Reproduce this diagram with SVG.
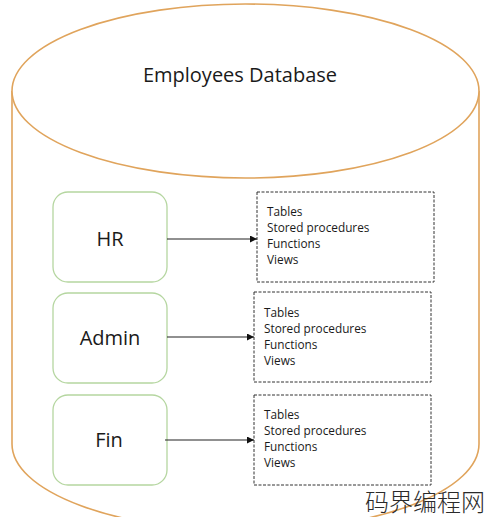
<svg xmlns="http://www.w3.org/2000/svg" width="490" height="517" viewBox="0 0 490 517">
<style>
.db{fill:#ffffff;stroke:#e0a45c;stroke-width:1.6}
.node{fill:#ffffff;stroke:#b5d6a0;stroke-width:1.3}
.box{fill:#ffffff;stroke:#333333;stroke-width:1;stroke-dasharray:3 1.5}
.lbl{font-family:"Open Sans","Noto Sans","Liberation Sans",sans-serif;font-size:20px;fill:#1a1a1a;text-anchor:middle}
.item{font-family:"Open Sans","Noto Sans","Liberation Sans",sans-serif;font-size:11.8px;fill:#1a1a1a}
.edge{stroke:#222222;stroke-width:1.1;fill:none}
.wm{font-family:"Noto Sans CJK SC",sans-serif;font-size:24px;fill:#2a2a2a;font-weight:300}
</style>
<defs>
<marker id="arr" viewBox="0 0 10 10" refX="10" refY="5" markerWidth="7" markerHeight="7" orient="auto" markerUnits="userSpaceOnUse">
<path d="M0,0 L10,5 L0,10 z" fill="#111111"/>
</marker>
</defs>
<g id="database">
<path class="db" d="M12,91 L12,444 A233.5,87 0 0 0 479,444 L479,91"/>
<ellipse class="db" cx="245.5" cy="91" rx="233.5" ry="87"/>
<text class="lbl" x="240" y="82">Employees Database</text>
</g>
<g id="hr">
<rect class="node" x="53" y="192" width="114" height="90" rx="15"/>
<text class="lbl" x="110" y="246">HR</text>
</g>
<g id="admin">
<rect class="node" x="53" y="293" width="114" height="90" rx="15"/>
<text class="lbl" x="110" y="345">Admin</text>
</g>
<g id="fin">
<rect class="node" x="53" y="395" width="114" height="90" rx="15"/>
<text class="lbl" x="109" y="447">Fin</text>
</g>
<g id="hr-objects">
<rect class="box" x="257" y="192" width="177" height="90"/>
<text class="item" x="267" y="216">Tables</text>
<text class="item" x="267" y="232">Stored procedures</text>
<text class="item" x="267" y="248">Functions</text>
<text class="item" x="267" y="264">Views</text>
</g>
<g id="admin-objects">
<rect class="box" x="254" y="292" width="177" height="90"/>
<text class="item" x="264" y="317">Tables</text>
<text class="item" x="264" y="333">Stored procedures</text>
<text class="item" x="264" y="349">Functions</text>
<text class="item" x="264" y="365">Views</text>
</g>
<g id="fin-objects">
<rect class="box" x="254" y="395" width="177" height="90"/>
<text class="item" x="264" y="419">Tables</text>
<text class="item" x="264" y="435">Stored procedures</text>
<text class="item" x="264" y="451">Functions</text>
<text class="item" x="264" y="467">Views</text>
</g>
<g id="connectors">
<line class="edge" x1="167" y1="239" x2="257" y2="239" marker-end="url(#arr)"/>
<line class="edge" x1="167" y1="337" x2="254" y2="337" marker-end="url(#arr)"/>
<line class="edge" x1="165" y1="440" x2="254" y2="440" marker-end="url(#arr)"/>
</g>
<text class="wm" x="365" y="511">码界编程网</text>
</svg>
